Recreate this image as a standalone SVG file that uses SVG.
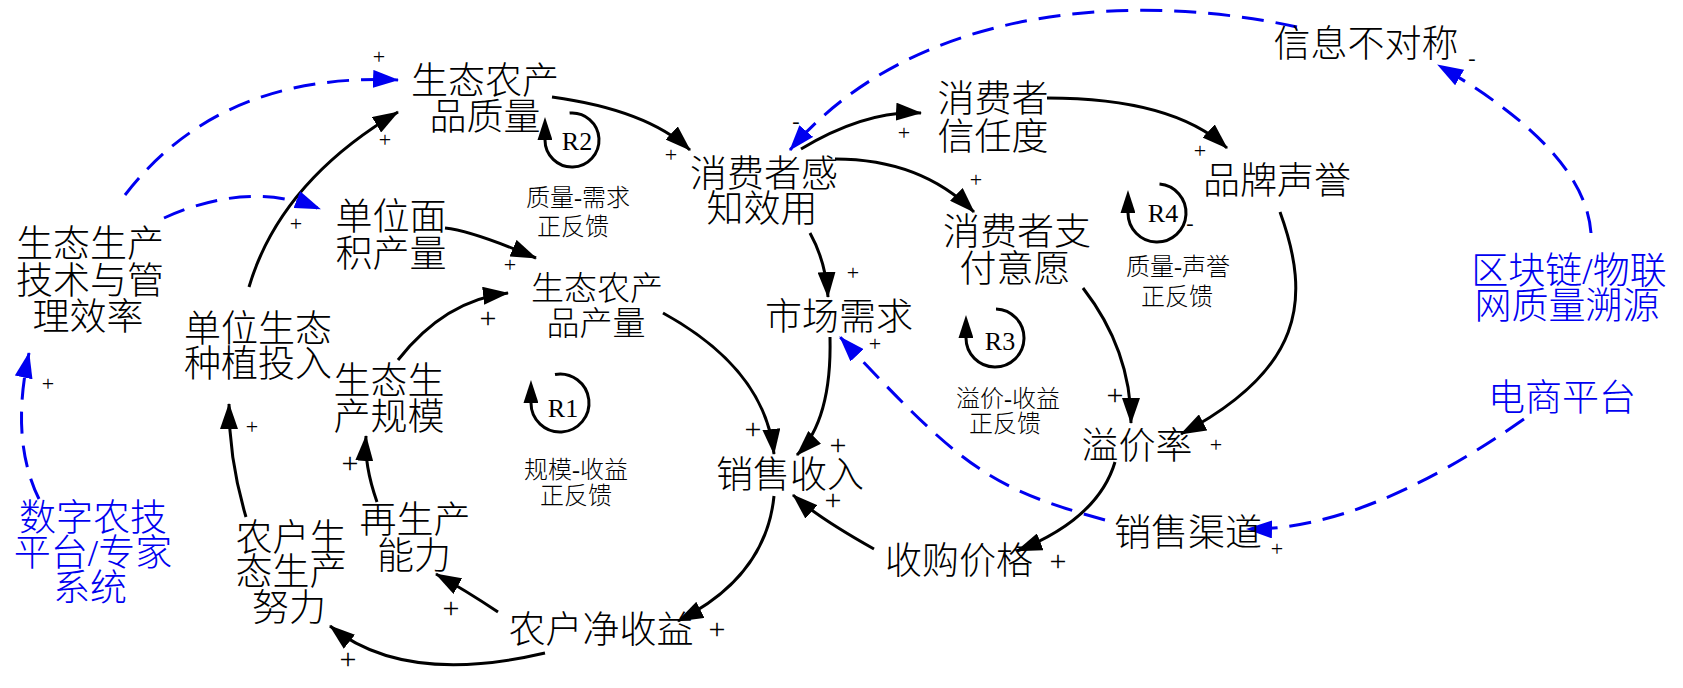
<svg xmlns="http://www.w3.org/2000/svg" width="1683" height="688" viewBox="0 0 1683 688">
<defs>
<style>
text { font-family: "Liberation Serif", "Noto Sans CJK SC", serif; text-anchor: middle; }
.n { font-size: 37px; fill: #000; font-weight: 300; }
.ns { font-size: 33px; fill: #000; font-weight: 300; }
.b { font-size: 37px; fill: #0000f0; font-weight: 300; }
.lbl { font-size: 24px; fill: #000; font-weight: 300; }
.rl { font-size: 26px; fill: #000; }
.ps { font-size: 22px; fill: #000; }
.pb { font-size: 30px; fill: #000; }
.k { fill: none; stroke: #000; stroke-width: 3; marker-end: url(#ak); }
.d { fill: none; stroke: #0000f0; stroke-width: 3; stroke-dasharray: 22 12; marker-end: url(#ab); }
.loop { fill: none; stroke: #000; stroke-width: 3; marker-end: url(#al); }
</style>
<marker id="ak" markerUnits="userSpaceOnUse" viewBox="0 0 26 18" refX="25" refY="9" markerWidth="26" markerHeight="18" orient="auto">
<path d="M0,0 L26,9 L0,18 Z" fill="#000"/>
</marker>
<marker id="ab" markerUnits="userSpaceOnUse" viewBox="0 0 26 18" refX="25" refY="9" markerWidth="26" markerHeight="18" orient="auto">
<path d="M0,0 L26,9 L0,18 Z" fill="#0000f0"/>
</marker>
<marker id="al" markerUnits="userSpaceOnUse" viewBox="0 0 23 15" refX="0" refY="7.5" markerWidth="23" markerHeight="15" orient="auto">
<path d="M0,0 L23,7.5 L0,15 Z" fill="#000"/>
</marker>
</defs>
<rect width="1683" height="688" fill="#fff"/>

<g id="connectors">
<path class="k" d="M249,287 Q280,182 398,112"/>
<path class="k" d="M552,97 Q647,110 690,150"/>
<path class="k" d="M445,228 Q473,231 536,258"/>
<path class="k" d="M398,360 Q445,300 508,293"/>
<path class="k" d="M663,313 Q765,369 774,454"/>
<path class="k" d="M830,337 Q832,420 797,455"/>
<path class="k" d="M874,549 Q817,517 793,495"/>
<path class="k" d="M774,496 Q766,577 678,621"/>
<path class="k" d="M545,653 Q404,686 330,626"/>
<path class="k" d="M498,612 Q465,590 436,574"/>
<path class="k" d="M246,517 Q229,460 229,404"/>
<path class="k" d="M377,502 Q364,465 366,436"/>
<path class="k" d="M801,149 Q866,110 921,113"/>
<path class="k" d="M835,159 Q921,159 974,212"/>
<path class="k" d="M810,233 Q826,262 828,297"/>
<path class="k" d="M1047,98 Q1173,98 1227,148"/>
<path class="k" d="M1083,288 Q1131,350 1131,423"/>
<path class="k" d="M1280,212 C1312,300 1303,370 1181,434"/>
<path class="k" d="M1115,462 Q1098,519 1017,551"/>
<path class="d" d="M125,195 Q220,72 398,80"/>
<path class="d" d="M164,218 Q248,180 320,209"/>
<path class="d" d="M39,499 Q10,440 29,353"/>
<path class="d" d="M1297,27 C1147,-6 920,-2 790,150"/>
<path class="d" d="M1591,233 Q1585,150 1438,65"/>
<path class="d" d="M1524,419 Q1364,531 1247,529"/>
<path class="d" d="M1105,520 C990,488 963,469 840,337"/>
</g>

<g id="polarity">
<text class="ps" x="379" y="64">+</text>
<text class="ps" x="385" y="147">+</text>
<text class="ps" x="296" y="231">+</text>
<text class="ps" x="510" y="272">+</text>
<text class="pb" x="488" y="328">+</text>
<text class="ps" x="671" y="162">+</text>
<text class="ps" x="796" y="128">-</text>
<text class="ps" x="904" y="140">+</text>
<text class="ps" x="976" y="187">+</text>
<text class="ps" x="853" y="280">+</text>
<text class="ps" x="1200" y="158">+</text>
<text class="ps" x="1472" y="65">-</text>
<text class="ps" x="1190" y="230">-</text>
<text class="ps" x="875" y="351">+</text>
<text class="pb" x="753" y="439">+</text>
<text class="pb" x="838" y="455">+</text>
<text class="pb" x="833" y="510">+</text>
<text class="pb" x="1058" y="571">+</text>
<text class="pb" x="717" y="639">+</text>
<text class="ps" x="1216" y="452">+</text>
<text class="pb" x="1115" y="405">+</text>
<text class="ps" x="1277" y="556">+</text>
<text class="ps" x="48" y="391">+</text>
<text class="ps" x="252" y="434">+</text>
<text class="pb" x="350" y="473">+</text>
<text class="pb" x="451" y="618">+</text>
<text class="pb" x="348" y="669">+</text>
</g>

<g id="loop-R1">
<path class="loop" d="M555,374.4 A29,29 0 1 1 531,403"/>
<text class="rl" x="563" y="417">R1</text>
<text class="lbl" x="576" y="478">规模-收益</text>
<text class="lbl" x="576" y="504">正反馈</text>
</g>
<g id="loop-R2">
<path class="loop" d="M569.6,113.1 A27,27 0 1 1 545,140"/>
<text class="rl" x="577" y="150">R2</text>
<text class="lbl" x="578" y="206">质量-需求</text>
<text class="lbl" x="573" y="235">正反馈</text>
</g>
<g id="loop-R3">
<path class="loop" d="M996,309 A29,29 0 1 1 966,338"/>
<text class="rl" x="1000" y="350">R3</text>
<text class="lbl" x="1008" y="407">溢价-收益</text>
<text class="lbl" x="1005" y="432">正反馈</text>
</g>
<g id="loop-R4">
<path class="loop" d="M1159.5,184.1 A29,29 0 1 1 1128,213"/>
<text class="rl" x="1163" y="222">R4</text>
<text class="lbl" x="1178" y="275">质量-声誉</text>
<text class="lbl" x="1177" y="305">正反馈</text>
</g>

<g id="node-quality"><text class="n" x="485" y="94">生态农产</text><text class="n" x="485" y="130">品质量</text></g>
<g id="node-unit-yield"><text class="n" x="391" y="230">单位面</text><text class="n" x="391" y="267">积产量</text></g>
<g id="node-tech"><text class="n" x="90" y="257">生态生产</text><text class="n" x="90" y="294">技术与管</text><text class="n" x="88" y="330">理效率</text></g>
<g id="node-input"><text class="n" x="258" y="342">单位生态</text><text class="n" x="258" y="377">种植投入</text></g>
<g id="node-scale"><text class="n" x="389" y="394">生态生</text><text class="n" x="389" y="430">产规模</text></g>
<g id="node-output"><text class="ns" x="597" y="300">生态农产</text><text class="ns" x="596" y="335">品产量</text></g>
<g id="node-utility"><text class="n" x="764" y="187">消费者感</text><text class="n" x="762" y="222">知效用</text></g>
<g id="node-trust"><text class="n" x="993" y="112">消费者</text><text class="n" x="993" y="150">信任度</text></g>
<g id="node-wtp"><text class="n" x="1017" y="245">消费者支</text><text class="n" x="1015" y="282">付意愿</text></g>
<g id="node-demand"><text class="n" x="839" y="330">市场需求</text></g>
<g id="node-brand"><text class="n" x="1277" y="194">品牌声誉</text></g>
<g id="node-asym"><text class="n" x="1366" y="57">信息不对称</text></g>
<g id="node-blockchain"><text class="b" x="1569" y="284">区块链/物联</text><text class="b" x="1567" y="319">网质量溯源</text></g>
<g id="node-ecommerce"><text class="b" x="1562" y="411">电商平台</text></g>
<g id="node-premium"><text class="n" x="1137" y="459">溢价率</text></g>
<g id="node-channel"><text class="n" x="1188" y="546">销售渠道</text></g>
<g id="node-price"><text class="n" x="959" y="574">收购价格</text></g>
<g id="node-revenue"><text class="n" x="790" y="488">销售收入</text></g>
<g id="node-income"><text class="n" x="601" y="643">农户净收益</text></g>
<g id="node-reproduce"><text class="n" x="415" y="533">再生产</text><text class="n" x="414" y="569">能力</text></g>
<g id="node-effort"><text class="n" x="291" y="551">农户生</text><text class="n" x="291" y="585">态生产</text><text class="n" x="289" y="621">努力</text></g>
<g id="node-digital"><text class="b" x="93" y="531">数字农技</text><text class="b" x="93" y="566">平台/专家</text><text class="b" x="90" y="601">系统</text></g>
</svg>
